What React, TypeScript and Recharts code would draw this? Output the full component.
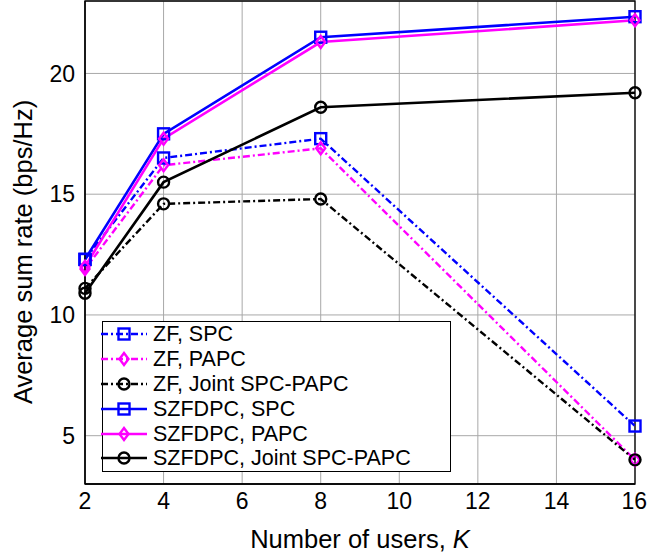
import React from 'react';
import {
  LineChart,
  Line,
  XAxis,
  YAxis,
  CartesianGrid,
  ReferenceArea
} from 'recharts';

const users = [2, 4, 8, 16];
const zfSpc = [12.3, 16.5, 17.3, 5.4];
const zfPapc = [11.9, 16.2, 16.9, 4.0];
const zfJoint = [11.1, 14.6, 14.8, 4.0];
const szfSpc = [12.3, 17.5, 21.5, 22.35];
const szfPapc = [12.0, 17.3, 21.3, 22.2];
const szfJoint = [10.9, 15.5, 18.6, 19.2];

const xTicks = [2, 4, 6, 8, 10, 12, 14, 16];
const yTicks = [5, 10, 15, 20];

const data = users.map((k, i) => ({
  k,
  zfSpc: zfSpc[i],
  zfPapc: zfPapc[i],
  zfJoint: zfJoint[i],
  szfSpc: szfSpc[i],
  szfPapc: szfPapc[i],
  szfJoint: szfJoint[i]
}));

const FONT = 'Liberation Sans, Arimo, Arial, sans-serif';
const BLUE = '#0000ff';
const MAGENTA = '#ff00ff';
const BLACK = '#000000';
const DASHDOT = '7 3 2 3';

type Marker = 'square' | 'diamond' | 'circle';

const drawMarker = (kind: Marker, color: string, cx: number, cy: number, key?: string) => {
  if (kind === 'square') {
    return <rect key={key} x={cx - 5.5} y={cy - 5.5} width={11} height={11} fill="none" stroke={color} strokeWidth={2.4} />;
  }
  if (kind === 'diamond') {
    return (
      <path
        key={key}
        d={`M${cx},${cy - 6} L${cx + 4.5},${cy} L${cx},${cy + 6} L${cx - 4.5},${cy} Z`}
        fill="none"
        stroke={color}
        strokeWidth={2.4}
      />
    );
  }
  return <circle key={key} cx={cx} cy={cy} r={5.5} fill="none" stroke={color} strokeWidth={2.4} />;
};

const makeDot = (kind: Marker, color: string, name: string) => (props: any) => {
  const { cx, cy, index } = props;
  if (cx == null || cy == null) return <g key={`${name}-${index}`} />;
  return drawMarker(kind, color, cx, cy, `${name}-${index}`);
};

const series = [
  { key: 'zfSpc', label: 'ZF, SPC', color: BLUE, marker: 'square' as Marker, dash: DASHDOT, width: 2.4 },
  { key: 'zfPapc', label: 'ZF, PAPC', color: MAGENTA, marker: 'diamond' as Marker, dash: DASHDOT, width: 2.4 },
  { key: 'zfJoint', label: 'ZF, Joint SPC-PAPC', color: BLACK, marker: 'circle' as Marker, dash: DASHDOT, width: 2.4 },
  { key: 'szfSpc', label: 'SZFDPC, SPC', color: BLUE, marker: 'square' as Marker, dash: undefined, width: 2.6 },
  { key: 'szfPapc', label: 'SZFDPC, PAPC', color: MAGENTA, marker: 'diamond' as Marker, dash: undefined, width: 2.6 },
  { key: 'szfJoint', label: 'SZFDPC, Joint SPC-PAPC', color: BLACK, marker: 'circle' as Marker, dash: undefined, width: 2.6 }
];

const XLabel = (props: any) => {
  const { viewBox } = props;
  const x = viewBox.x + viewBox.width / 2;
  const y = viewBox.y + 64;
  return (
    <text x={x} y={y} textAnchor="middle" style={{ fontFamily: FONT }} fontSize={25.5} fill="#000">
      Number of users, <tspan fontStyle="italic">K</tspan>
    </text>
  );
};

const YLabel = () => (
  <text
    x={0}
    y={0}
    transform="translate(32, 252) rotate(-90)"
    textAnchor="middle"
    style={{ fontFamily: FONT }}
    fontSize={25.5}
    fill="#000"
  >
    Average sum rate (bps/Hz)
  </text>
);

const LegendBox = () => (
  <div
    style={{
      position: 'absolute',
      left: 102,
      top: 321,
      width: 349,
      height: 151,
      boxSizing: 'border-box',
      border: '1px solid #000',
      background: '#fff',
      fontFamily: FONT,
      fontSize: 21.5
    }}
  >
    {series.map((s) => (
      <div key={s.key} style={{ display: 'flex', alignItems: 'center', height: 24.8, whiteSpace: 'nowrap' }}>
        <svg width={46} height={24} style={{ marginLeft: -2, marginRight: 6, flex: 'none' }}>
          <line x1={0} y1={12} x2={46} y2={12} stroke={s.color} strokeWidth={s.width} strokeDasharray={s.dash} />
          {drawMarker(s.marker, s.color, 23, 12)}
        </svg>
        <span style={{ lineHeight: '24px' }}>{s.label}</span>
      </div>
    ))}
  </div>
);

export default function App() {
  return (
    <div style={{ position: 'absolute', left: 0, top: 0, width: 647, height: 556, background: '#fff' }}>
      <LineChart width={647} height={556} data={data} margin={{ top: 1, right: 12, bottom: 0, left: 0 }}>
        <CartesianGrid stroke="#a8a8a8" strokeWidth={1} />
        <XAxis
          dataKey="k"
          type="number"
          domain={[2, 16]}
          ticks={xTicks}
          height={72}
          tickSize={0}
          tickMargin={9}
          tickLine={false}
          axisLine={{ stroke: '#000', strokeWidth: 1.3 }}
          tick={{ fontSize: 23, fill: '#000', style: { fontFamily: FONT } }}
          label={<XLabel />}
        />
        <YAxis
          type="number"
          domain={[3, 23]}
          ticks={yTicks}
          width={85}
          tickSize={0}
          tickMargin={10}
          tickLine={false}
          axisLine={{ stroke: '#000', strokeWidth: 1.3 }}
          tick={{ fontSize: 23, fill: '#000', style: { fontFamily: FONT } }}
          label={<YLabel />}
        />
        <ReferenceArea x1={2} x2={16} y1={3} y2={23} fill="none" stroke="#000" strokeWidth={1.3} />
        {series.map((s) => (
          <Line
            key={s.key}
            dataKey={s.key}
            type="linear"
            stroke={s.color}
            strokeWidth={s.width}
            strokeDasharray={s.dash}
            dot={makeDot(s.marker, s.color, s.key)}
            isAnimationActive={false}
          />
        ))}
      </LineChart>
      <LegendBox />
    </div>
  );
}
